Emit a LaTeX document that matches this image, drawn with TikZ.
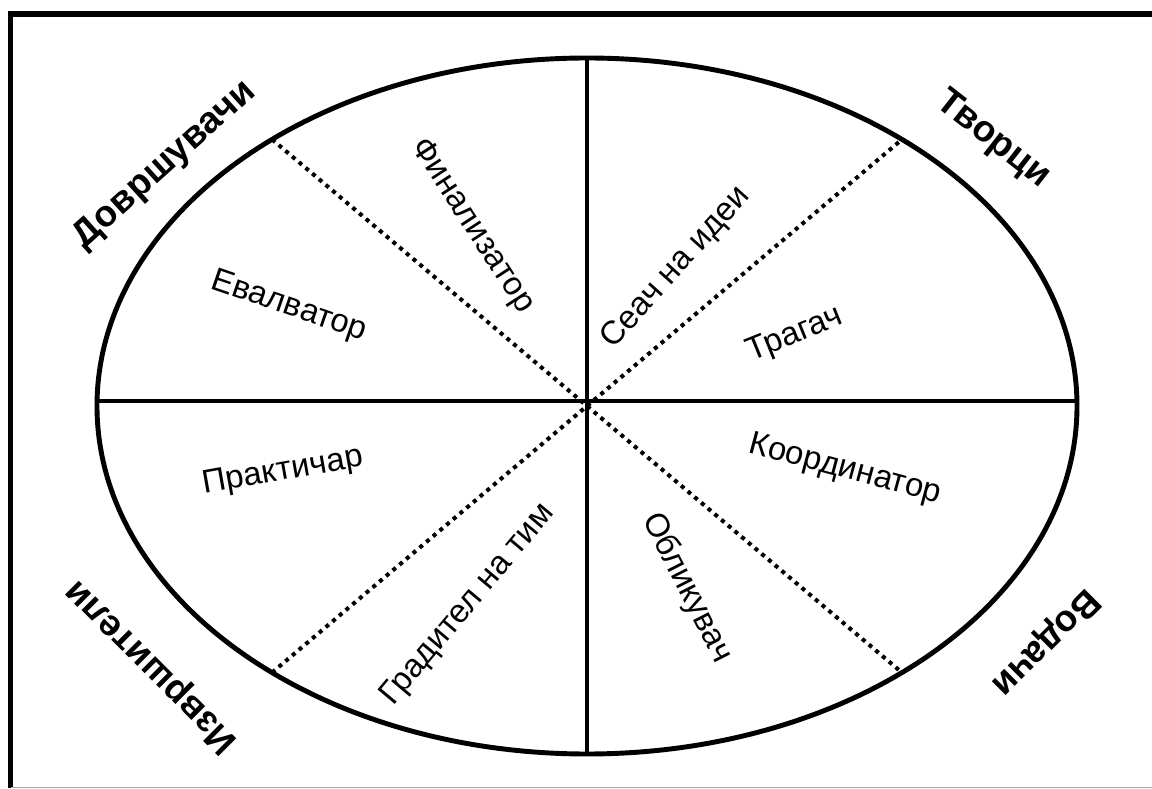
\documentclass[tikz,border=0pt]{standalone}
\usepackage{fontspec}
\setmainfont{Liberation Sans}
\usepackage{tikz}
\usetikzlibrary{calc}

\begin{document}
\begin{tikzpicture}[
    x=0.02cm,y=0.02cm,
    rim/.style={line width=2.8pt},
    split/.style={line width=2.3pt},
    diag/.style={line width=2.3pt,dash pattern=on 2.3pt off 2.7pt},
    role/.style={font=\fontsize{18.7}{22}\selectfont,inner sep=0pt},
    group/.style={font=\fontsize{21}{25}\bfseries\selectfont,inner sep=0pt}
]
\useasboundingbox (0,0) rectangle (1152,788);
\draw[line width=3pt] (10.5,0) -- (10.5,774) -- (1152,774);
\draw[gray!70,line width=0.8pt] (10.5,0.5) -- (1152,0.5);
\coordinate (c) at (587,382);
\path (c) ++(0.8:490 and 348) coordinate (e)
      (c) ++(90:490 and 348) coordinate (n)
      (c) ++(179.2:490 and 348) coordinate (w)
      (c) ++(270:490 and 348) coordinate (s)
      (c) ++(50:490 and 348) coordinate (ne)
      (c) ++(130:490 and 348) coordinate (nw)
      (c) ++(230:490 and 348) coordinate (sw)
      (c) ++(310:490 and 348) coordinate (se);
\draw[split] (w) -- (e);
\draw[split] (n) -- (s);
\draw[diag] (nw) -- (se);
\draw[diag] (sw) -- (ne);
\draw[rim] (c) ellipse (490 and 348);
\node[group,rotate=42] (finishers) at (165,623) {Довршувачи};
\node[group,rotate=-38] (creators) at (993,648) {Творци};
\node[group,rotate=135] (doers) at (152,122) {Извршители};
\node[group,rotate=225] (leaders) at (1045,146) {Водачи};
\node[role,rotate=-57] (finaliser) at (472,562) {Финализатор};
\node[role,rotate=-19] (evaluator) at (289,481) {Евалватор};
\node[role,rotate=48] (seeker) at (676,520) {Сеач на идеи};
\node[role,rotate=22] (searcher) at (795,453) {Трагач};
\node[role,rotate=10] (practician) at (283,316) {Практичар};
\node[role,rotate=50] (builder) at (468,183) {Градител на тим};
\node[role,rotate=-63] (shaper) at (687,200) {Обликувач};
\node[role,rotate=-15] (coordinator) at (845,318) {Координатор};
\end{tikzpicture}
\end{document}
